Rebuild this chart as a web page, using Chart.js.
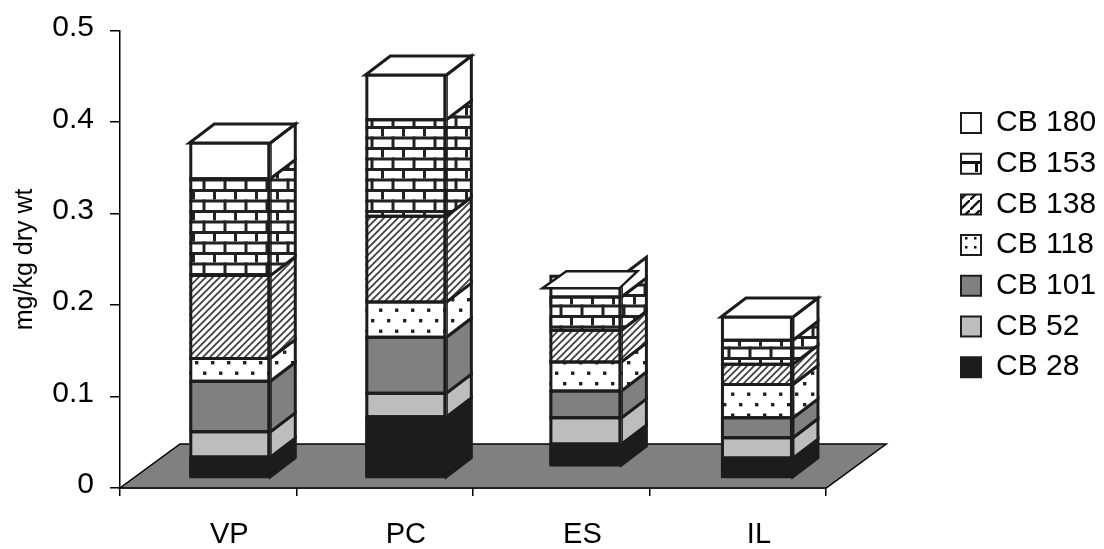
<!DOCTYPE html>
<html>
<head>
<meta charset="utf-8">
<title>CB congeners</title>
<script src="https://cdn.jsdelivr.net/npm/chart.js@4/dist/chart.umd.min.js"></script>
<style>
  html, body { margin: 0; padding: 0; background: #fff; }
  #wrap { width: 1104px; height: 549px; }
</style>
</head>
<body>
<div id="wrap"><canvas id="chart" width="1104" height="549"></canvas></div>
<script>
const categories = ['VP', 'PC', 'ES', 'IL'];
const yTicks = [0, 0.1, 0.2, 0.3, 0.4, 0.5];

const baseGap = [0, 0, 0.0128, 0]; // ES floats a little above the others
const cb28 = [0.0215, 0.0655, 0.0229, 0.0204];
const cb52 = [0.0276, 0.0259, 0.0287, 0.0222];
const cb101 = [0.0553, 0.0611, 0.0295, 0.0218];
const cb118 = [0.0250, 0.0385, 0.0317, 0.0365];
const cb138 = [0.0906, 0.0939, 0.0346, 0.0222];
const cb153 = [0.1060, 0.1056, 0.0364, 0.0262];
const cb180 = [0.0390, 0.0488, 0.0226, 0.0254];

const INK = '#1c1c1c';
const DEPTH = { x: 25, y: -19 };
const FLOOR = { x: 60, y: -44 };
const barWidths = [81, 81, 72, 72];
const barShift = [21.5, 21, 24, 19];

function tile(w, h, draw) {
  const c = document.createElement('canvas');
  c.width = w;
  c.height = h;
  const g = c.getContext('2d');
  g.fillStyle = '#fff';
  g.fillRect(0, 0, w, h);
  draw(g);
  return document.createElement('canvas').getContext('2d').createPattern(c, 'repeat');
}

const brick = tile(21, 21, g => {
  g.fillStyle = '#222';
  g.fillRect(0, 0, 21, 3);
  g.fillRect(0, 10.5, 21, 3);
  g.fillRect(3, 0, 3, 10.5);
  g.fillRect(13.5, 10.5, 3, 10.5);
});

const dots = tile(16, 21, g => {
  g.fillStyle = '#222';
  g.fillRect(3, 4, 3.4, 3.4);
  g.fillRect(11, 14.5, 3.4, 3.4);
});

const hatch = tile(7, 7, g => {
  g.strokeStyle = '#444';
  g.lineWidth = 1.9;
  g.beginPath();
  g.moveTo(-2, 9);
  g.lineTo(9, -2);
  g.moveTo(-2, 2);
  g.lineTo(2, -2);
  g.moveTo(5, 9);
  g.lineTo(9, 5);
  g.stroke();
});

// the small legend swatches have their own coarse versions of the fills
const legendBrick = tile(20, 41, g => {
  g.fillStyle = '#111';
  g.fillRect(0, 38, 20, 3);
  g.fillRect(15, 38, 3, 3);
  g.fillRect(15, 0, 3, 8);
});
const legendHatch = tile(10, 10, g => {
  g.strokeStyle = '#111';
  g.lineWidth = 2.4;
  g.beginPath();
  g.moveTo(-1, 11);
  g.lineTo(11, -1);
  g.stroke();
});
const legendDots = tile(9, 9, g => {
  g.fillStyle = '#111';
  g.fillRect(2, 3, 2.5, 2.5);
});

function series(label, data, fill) {
  return {
    label,
    data,
    backgroundColor: fill,
    borderWidth: 0,
    xAxisID: 'x',
    yAxisID: 'yBars',
    stack: 'cb'
  };
}

const datasets = [
  { label: 'gap', data: baseGap, backgroundColor: 'transparent', borderWidth: 0, yAxisID: 'yBars', stack: 'cb' },
  series('CB 28', cb28, INK),
  series('CB 52', cb52, '#bdbdbd'),
  series('CB 101', cb101, '#808080'),
  series('CB 118', cb118, dots),
  series('CB 138', cb138, hatch),
  series('CB 153', cb153, brick),
  series('CB 180', cb180, '#ffffff')
];

const legendFills = { 'CB 118': legendDots, 'CB 138': legendHatch, 'CB 153': legendBrick };

function quad(ctx, pts, fill, stroke, width) {
  ctx.beginPath();
  pts.forEach((p, i) => (i ? ctx.lineTo(p[0], p[1]) : ctx.moveTo(p[0], p[1])));
  ctx.closePath();
  if (fill) {
    ctx.fillStyle = fill;
    ctx.fill();
  }
  ctx.strokeStyle = stroke;
  ctx.lineWidth = width;
  ctx.lineJoin = 'miter';
  ctx.stroke();
}

const boxes3d = {
  id: 'boxes3d',
  afterLayout(chart) {
    // legend sits apart from the plot, further up than the layout would put it
    const lg = chart.legend;
    const h = lg.bottom - lg.top;
    lg.left = 950.3;
    lg.right = 1104;
    lg.top = 97.3;
    lg.bottom = lg.top + h;
  },
  afterDatasetsUpdate(chart) {
    chart.data.datasets.forEach((ds, d) => {
      chart.getDatasetMeta(d).data.forEach((el, i) => {
        el.x = chart.scales.x.getPixelForValue(i) + barShift[i];
        el.width = barWidths[i];
      });
    });
  },
  beforeDatasetsDraw(chart) {
    const ctx = chart.ctx;
    const area = chart.chartArea;
    const y0 = chart.scales.y.getPixelForValue(0);
    ctx.save();
    quad(ctx, [
      [area.left, y0],
      [area.right, y0],
      [area.right + FLOOR.x, y0 + FLOOR.y],
      [area.left + FLOOR.x, y0 + FLOOR.y]
    ], '#808080', '#000', 1.5);
    chart.data.datasets.forEach((ds, d) => {
      if (ds.label === 'gap') return;
      chart.getDatasetMeta(d).data.forEach(el => {
        const x = el.x + el.width / 2;
        quad(ctx, [
          [x, el.y],
          [x + DEPTH.x, el.y + DEPTH.y],
          [x + DEPTH.x, el.base + DEPTH.y],
          [x, el.base]
        ], ds.backgroundColor, INK, 3);
      });
    });
    ctx.restore();
  },
  afterDatasetsDraw(chart) {
    const ctx = chart.ctx;
    ctx.save();
    // outlines of the front faces, centred on the segment boundaries
    chart.data.datasets.forEach((ds, d) => {
      if (ds.label === 'gap') return;
      chart.getDatasetMeta(d).data.forEach(el => {
        const l = el.x - el.width / 2 + 1.5;
        const r = el.x + el.width / 2 - 1.5;
        quad(ctx, [[l, el.y], [r, el.y], [r, el.base], [l, el.base]], null, INK, 3);
      });
    });
    const top = chart.getDatasetMeta(chart.data.datasets.length - 1).data;
    top.forEach((el, i) => {
      const l = el.x - el.width / 2;
      const r = el.x + el.width / 2;
      if (categories[i] === 'ES') {
        // the ES lid has slipped forward in the original
        quad(ctx, [[l - 7, el.y + 12], [r - 2, el.y + 12], [r + 16, el.y - 5], [l + 17, el.y - 5]], '#fff', INK, 2.5);
      } else {
        quad(ctx, [[l, el.y], [r, el.y], [r + DEPTH.x, el.y + DEPTH.y], [l + DEPTH.x, el.y + DEPTH.y]], '#fff', INK, 3);
      }
    });
    ctx.restore();
  }
};

Chart.defaults.font.family = '"Liberation Sans", Arial, sans-serif';
Chart.defaults.color = '#000';

new Chart(document.getElementById('chart').getContext('2d'), {
  type: 'bar',
  data: { labels: categories, datasets },
  plugins: [boxes3d],
  options: {
    responsive: false,
    animation: false,
    layout: { padding: { top: 30.8, right: 122, bottom: 0, left: 0 } },
    scales: {
      x: {
        stacked: true,
        grid: { drawOnChartArea: false, color: '#000', tickLength: 8, lineWidth: 1.5 },
        border: { color: '#000', width: 1.5 },
        ticks: { font: { size: 29 }, padding: 22, labelOffset: 21, maxRotation: 0 },
        afterFit: s => { s.height = 61; }
      },
      y: {
        min: 0,
        max: 0.5,
        afterBuildTicks: s => { s.ticks = yTicks.map(value => ({ value })); },
        grid: { drawOnChartArea: false, color: '#000', tickLength: 10, lineWidth: 1.5 },
        border: { color: '#000', width: 1.5 },
        ticks: { font: { size: 30 }, padding: 16, labelOffset: -3, callback: v => String(v) },
        title: { display: true, text: 'mg/kg dry wt', font: { size: 25 }, padding: { top: 10, bottom: 0 } },
        afterFit: s => { s.width = 120; s.paddingTop = 0; s.paddingBottom = 0; }
      },
      // front faces stand on the floor, a little above the axis zero
      yBars: { display: false, stacked: true, min: -0.0123, max: 0.4877 }
    },
    plugins: {
      tooltip: { enabled: false },
      legend: {
        position: 'right',
        align: 'start',
        reverse: true,
        labels: {
          font: { size: 30 },
          boxWidth: 20,
          boxHeight: 20,
          padding: 10.7,
          generateLabels(chart) {
            return Chart.defaults.plugins.legend.labels.generateLabels(chart)
              .filter(item => item.text !== 'gap')
              .map(item => Object.assign(item, {
                fillStyle: legendFills[item.text] || item.fillStyle,
                strokeStyle: INK,
                lineWidth: 2
              }));
          }
        }
      }
    }
  }
});
</script>
</body>
</html>
